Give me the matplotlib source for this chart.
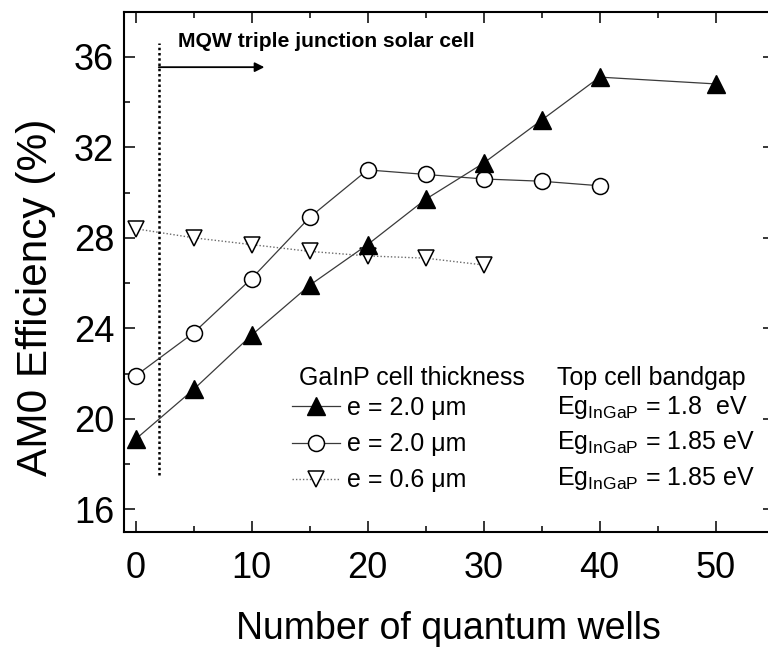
import matplotlib
matplotlib.use("Agg")
import matplotlib.pyplot as plt
from matplotlib.ticker import MultipleLocator

plt.rcParams['font.family'] = ['Liberation Sans', 'DejaVu Sans']
plt.rcParams['mathtext.fontset'] = 'custom'
plt.rcParams['mathtext.rm'] = 'Liberation Sans'
plt.rcParams['mathtext.it'] = 'Liberation Sans:italic'
plt.rcParams['mathtext.bf'] = 'Liberation Sans:bold'

# AM0 efficiency versus number of quantum wells
wells_a = [0, 5, 10, 15, 20, 25, 30, 35, 40, 50]
eff_a = [19.1, 21.3, 23.7, 25.9, 27.7, 29.7, 31.3, 33.2, 35.1, 34.8]

wells_b = [0, 5, 10, 15, 20, 25, 30, 35, 40]
eff_b = [21.9, 23.8, 26.2, 28.9, 31.0, 30.8, 30.6, 30.5, 30.3]

wells_c = [0, 5, 10, 15, 20, 25, 30]
eff_c = [28.4, 28.0, 27.7, 27.4, 27.2, 27.1, 26.8]

thickness_labels = ["e = 2.0 \u03bcm", "e = 2.0 \u03bcm", "e = 0.6 \u03bcm"]
bandgap_labels = ["1.8  eV", "1.85 eV", "1.85 eV"]

# MQW region marker: boundary at 2 wells, arrow pointing to larger well counts
mqw_start = 2
mqw_arrow_end = 11.1
mqw_arrow_y = 35.54
mqw_line_span = (17.5, 36.6)

W, H = 768, 653
fig = plt.figure(figsize=(W / 100, H / 100), dpi=100)


def fx(px):
    return px / W


def fy(py):
    return 1 - py / H


ax = fig.add_axes([fx(124), fy(532), 649.6 / W, 520.5 / H])

line_kw = dict(color="#3a3a3a", lw=0.9)
lc, = ax.plot(wells_c, eff_c, linestyle=(0, (1, 1.5)), color="#6a6a6a", lw=1.0,
              marker="v", markersize=11.5, markerfacecolor="white",
              markeredgecolor="black", markeredgewidth=1.1, zorder=2)
lb, = ax.plot(wells_b, eff_b, marker="o", markersize=11.5, markerfacecolor="white",
              markeredgecolor="black", markeredgewidth=1.1, zorder=3, **line_kw)
la, = ax.plot(wells_a, eff_a, marker="^", markersize=12.5, markerfacecolor="black",
              markeredgecolor="black", markeredgewidth=1.0, zorder=4, **line_kw)

ax.vlines(mqw_start, *mqw_line_span, colors="black", linestyles=(0, (1, 1.1)), lw=1.8)
ax.annotate("", xy=(mqw_arrow_end, mqw_arrow_y), xytext=(mqw_start, mqw_arrow_y),
            arrowprops=dict(arrowstyle="-|>", color="black", lw=1.3,
                            mutation_scale=14, shrinkA=0, shrinkB=0))
fig.text(fx(178), fy(47), "MQW triple junction solar cell", fontsize=15.2,
         fontweight="bold", va="baseline", ha="left")

ax.set_xlim(-1, 55)
ax.set_ylim(15, 38)
ax.xaxis.set_major_locator(MultipleLocator(10))
ax.xaxis.set_minor_locator(MultipleLocator(5))
ax.yaxis.set_major_locator(MultipleLocator(4))
ax.yaxis.set_minor_locator(MultipleLocator(2))
ax.set_yticks([16, 20, 24, 28, 32, 36])

ax.tick_params(which="both", direction="in", top=True, right=True, width=1.1)
ax.tick_params(which="major", length=8, labelsize=26)
ax.tick_params(which="minor", length=4.3)
ax.tick_params(axis="x", which="major", pad=13.5)
ax.tick_params(axis="y", which="major", pad=7)
for s in ax.spines.values():
    s.set_linewidth(1.5)

ax.set_xlabel("Number of quantum wells", fontsize=27)
ax.set_ylabel("AM0 Efficiency (%)", fontsize=30.5)
ax.xaxis.set_label_coords(0.5, -0.152)
ax.yaxis.set_label_coords(-0.105, 0.45)

# Legend: thickness column with handles, bandgap column as text
fs = 18
ax.legend([la, lb, lc], thickness_labels, loc="upper left",
          bbox_to_anchor=(fx(292), fy(396)), bbox_transform=fig.transFigure,
          frameon=False, fontsize=fs, handlelength=1.92, handletextpad=0.28,
          labelspacing=0.49, borderpad=0, borderaxespad=0, numpoints=1)
fig.text(fx(299), fy(385), "GaInP cell thickness", fontsize=fs, va="baseline")
fig.text(fx(557), fy(385), "Top cell bandgap", fontsize=fs, va="baseline")
for i, lab in enumerate(bandgap_labels):
    fig.text(fx(557), fy(414 + 35.5 * i), r"Eg$_{\mathregular{InGaP}}$ = " + lab,
             fontsize=fs, va="baseline")

fig.savefig("out.png", dpi=100)
